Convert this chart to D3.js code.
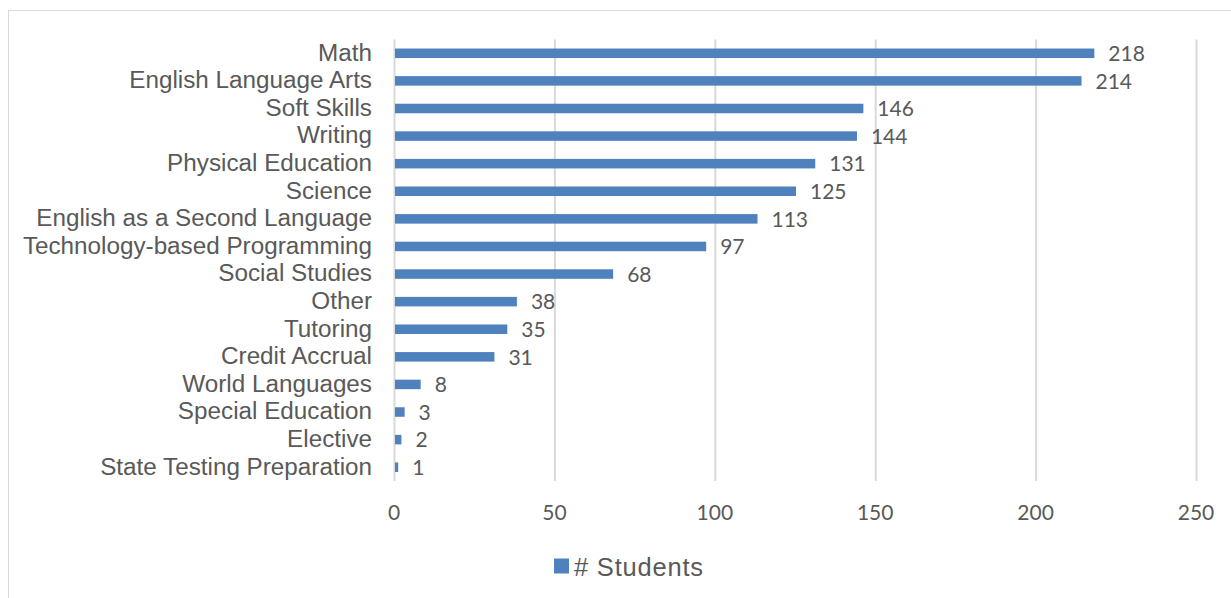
<!DOCTYPE html>
<html>
<head>
<meta charset="utf-8">
<script src="https://cdn.jsdelivr.net/npm/d3@7"></script>
<style>
  body { margin: 0; background: #fff; }
  svg { display: block; }
</style>
</head>
<body>
<div id="chart-area"></div>
<script>
var categories = [
    "Math", "English Language Arts", "Soft Skills", "Writing",
    "Physical Education", "Science", "English as a Second Language",
    "Technology-based Programming", "Social Studies", "Other", "Tutoring",
    "Credit Accrual", "World Languages", "Special Education", "Elective",
    "State Testing Preparation"
];
var students = [218, 214, 146, 144, 131, 125, 113, 97, 68, 38, 35, 31, 8, 3, 2, 1];
var xTicks = [0, 50, 100, 150, 200, 250];
var seriesName = "# Students";

var dims = {
    width: 1231,
    height: 598,
    left: 395,
    right: 1197,
    top: 39.5,
    bottom: 481
};

var barColor = "#4f81bd";
var gridColor = "#d9d9d9";
var textColor = "#595959";
var numberFont = "Lato, 'Open Sans', sans-serif";
var labelFont = "'Liberation Sans', Arial, sans-serif";

var svg = d3.select("#chart-area")
    .append("svg")
    .attr("width", dims.width)
    .attr("height", dims.height);

// chart border
svg.append("rect")
    .attr("x", 8.5)
    .attr("y", 10.5)
    .attr("width", dims.width + 10)
    .attr("height", dims.height + 10)
    .attr("fill", "none")
    .attr("stroke", gridColor);

var x = d3.scaleLinear()
    .domain([0, 250])
    .range([dims.left, dims.right]);

var y = d3.scaleBand()
    .domain(categories)
    .range([dims.top, dims.bottom])
    .paddingInner(0.655)
    .paddingOuter(0.3275);

// vertical gridlines
svg.append("g")
    .selectAll("line")
    .data(xTicks)
    .enter().append("line")
    .attr("x1", function (d) { return x(d) - 0.5; })
    .attr("x2", function (d) { return x(d) - 0.5; })
    .attr("y1", dims.top)
    .attr("y2", dims.bottom)
    .attr("stroke", gridColor)
    .attr("stroke-width", 2);

// x tick labels
svg.append("g")
    .selectAll("text")
    .data(xTicks)
    .enter().append("text")
    .attr("x", function (d) { return x(d) - 1; })
    .attr("y", 520)
    .attr("text-anchor", "middle")
    .attr("font-family", numberFont)
    .attr("font-size", 21)
    .attr("fill", textColor)
    .text(function (d) { return d; });

// category labels
svg.append("g")
    .selectAll("text")
    .data(categories)
    .enter().append("text")
    .attr("x", 372)
    .attr("y", function (d) { return y(d) + y.bandwidth() / 2 + 7.3; })
    .attr("text-anchor", "end")
    .attr("font-family", labelFont)
    .attr("font-size", 24.25)
    .attr("fill", textColor)
    .text(function (d) { return d; });

// bars
svg.append("g")
    .selectAll("rect")
    .data(students)
    .enter().append("rect")
    .attr("x", x(0))
    .attr("y", function (d, i) { return y(categories[i]); })
    .attr("width", function (d) { return x(d) - x(0); })
    .attr("height", y.bandwidth())
    .attr("fill", barColor);

// value labels
svg.append("g")
    .selectAll("text")
    .data(students)
    .enter().append("text")
    .attr("x", function (d) { return x(d) + 14; })
    .attr("y", function (d, i) { return y(categories[i]) + y.bandwidth() / 2 + 7.7; })
    .attr("font-family", numberFont)
    .attr("font-size", 21)
    .attr("fill", textColor)
    .text(function (d) { return d; });

// legend
var legend = svg.append("g");
legend.append("rect")
    .attr("x", 554)
    .attr("y", 558.5)
    .attr("width", 15)
    .attr("height", 15)
    .attr("fill", barColor);
legend.append("text")
    .attr("x", 574)
    .attr("y", 575.5)
    .attr("font-family", labelFont)
    .attr("font-size", 25.5)
    .attr("letter-spacing", 0.8)
    .attr("fill", textColor)
    .text(seriesName);
</script>
</body>
</html>
